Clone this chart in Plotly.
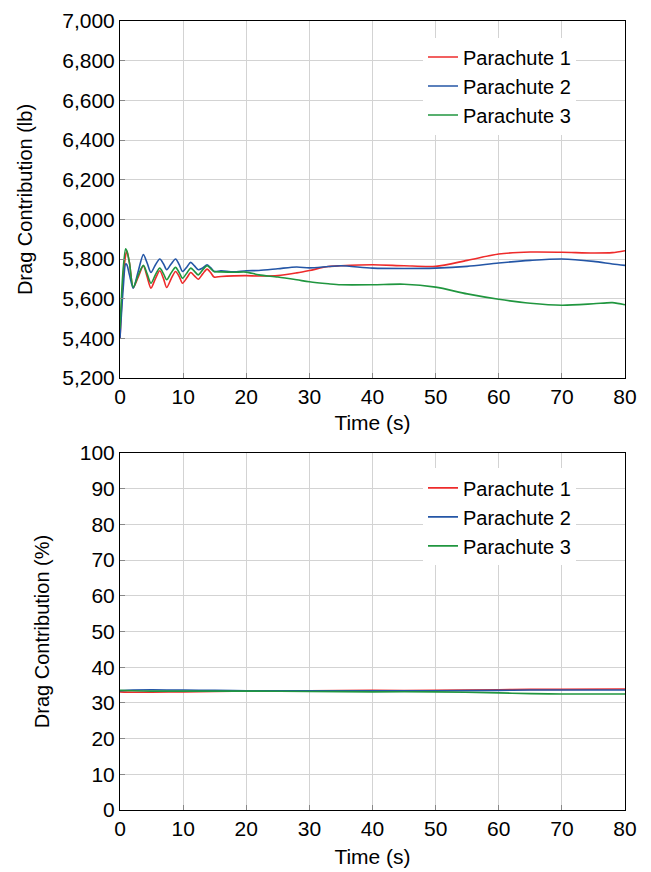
import plotly.graph_objects as go

# ---- data ----
time_s = [0, 0.5, 0.9, 1.1, 1.5, 2.1, 2.9, 3.7, 4.3, 4.9, 5.6, 6.3, 6.9, 7.4, 8.1, 8.8,
          9.4, 9.9, 10.6, 11.2, 11.8, 12.4, 13.1, 13.8, 14.4, 14.9, 16, 18, 20, 22, 25,
          28, 30, 33, 35, 40, 45, 50, 55, 60, 65, 70, 75, 78, 80]

drag_p1 = [5400, 5700, 5820, 5839, 5780, 5655, 5710, 5766, 5710, 5653, 5700, 5741, 5700,
           5656, 5700, 5737, 5710, 5678, 5705, 5732, 5715, 5698, 5725, 5749, 5730, 5709,
           5712, 5715, 5716, 5714, 5716, 5730, 5742, 5762, 5766, 5771, 5766, 5763, 5793,
           5825, 5835, 5834, 5830, 5832, 5842]
drag_p2 = [5400, 5650, 5775, 5770, 5720, 5653, 5740, 5822, 5780, 5732, 5770, 5800, 5775,
           5746, 5775, 5800, 5770, 5737, 5760, 5783, 5765, 5746, 5755, 5771, 5755, 5737,
           5740, 5735, 5741, 5742, 5751, 5760, 5755, 5762, 5766, 5754, 5752, 5754, 5763,
           5780, 5793, 5800, 5788, 5775, 5768]
drag_p3 = [5450, 5750, 5851, 5840, 5780, 5658, 5720, 5768, 5725, 5678, 5720, 5754, 5725,
           5695, 5730, 5758, 5730, 5703, 5730, 5754, 5738, 5720, 5745, 5766, 5750, 5737,
           5735, 5733, 5734, 5720, 5709, 5695, 5685, 5675, 5670, 5670, 5673, 5658, 5624,
           5597, 5577, 5567, 5574, 5580, 5569]

pct_time = [0, 2, 5, 10, 15, 20, 30, 40, 50, 60, 65, 70, 80]
pct_p1 = [33.1, 33.0, 33.0, 33.1, 33.2, 33.3, 33.4, 33.5, 33.5, 33.7, 33.8, 33.8, 33.9]
pct_p2 = [33.4, 33.6, 33.7, 33.6, 33.5, 33.4, 33.4, 33.4, 33.4, 33.5, 33.6, 33.6, 33.6]
pct_p3 = [33.5, 33.4, 33.3, 33.3, 33.3, 33.3, 33.2, 33.1, 33.1, 32.8, 32.6, 32.5, 32.5]

names = ["Parachute 1", "Parachute 2", "Parachute 3"]
colors = ["#EE2B2B", "#2456A6", "#20963F"]

FONT = "Liberation Sans, Arial, Helvetica, sans-serif"
TS = 21
LS = 20

fig = go.Figure()
for name, col, ys in zip(names, colors, [drag_p1, drag_p2, drag_p3]):
    fig.add_trace(go.Scatter(x=time_s, y=ys, mode="lines", name=name,
                             line=dict(color=col, width=1.6, shape="spline", smoothing=0.8),
                             xaxis="x", yaxis="y", legend="legend"))
for name, col, ys in zip(names, colors, [pct_p1, pct_p2, pct_p3]):
    fig.add_trace(go.Scatter(x=pct_time, y=ys, mode="lines", name=name,
                             line=dict(color=col, width=1.6, shape="spline", smoothing=0.8),
                             xaxis="x2", yaxis="y2", legend="legend2"))

axis_common = dict(showgrid=True, gridcolor="#d3d3d3", gridwidth=1,
                   showline=True, linecolor="black", linewidth=1, mirror=True,
                   ticks="inside", ticklen=5, tickcolor="#888888",
                   tickfont=dict(size=TS, color="black", family=FONT),
                   zeroline=False, automargin=False)

top_bottom = (810 - 378) / 789
bot_top = (810 - 453) / 789

fig.update_layout(
    width=651, height=872,
    margin=dict(l=120, r=26, t=21, b=62, autoexpand=False),
    paper_bgcolor="white", plot_bgcolor="white",
    font=dict(family=FONT, size=TS, color="black"),
    xaxis=dict(axis_common, range=[0, 80], dtick=10, domain=[0, 1], anchor="y",
               title=dict(text="Time (s)", font=dict(size=TS), standoff=8)),
    yaxis=dict(axis_common, range=[5200, 7000], dtick=200, tickformat=",d",
               domain=[top_bottom, 1], anchor="x",
               title=dict(text="Drag Contribution (lb)", font=dict(size=20), standoff=24)),
    xaxis2=dict(axis_common, range=[0, 80], dtick=10, domain=[0, 1], anchor="y2",
                title=dict(text="Time (s)", font=dict(size=TS), standoff=10)),
    yaxis2=dict(axis_common, range=[0, 100], dtick=10, domain=[0, bot_top], anchor="x2",
                title=dict(text="Drag Contribution (%)", font=dict(size=20), standoff=24)),
    legend=dict(x=0.6, y=0.979, xanchor="left", yanchor="top",
                bgcolor="white", borderwidth=0, font=dict(size=LS),
                tracegroupgap=0),
    legend2=dict(x=0.6, y=0.433, xanchor="left", yanchor="top",
                 bgcolor="white", borderwidth=0, font=dict(size=LS),
                 tracegroupgap=0),
    showlegend=True,
)

fig.write_html("out.html")
